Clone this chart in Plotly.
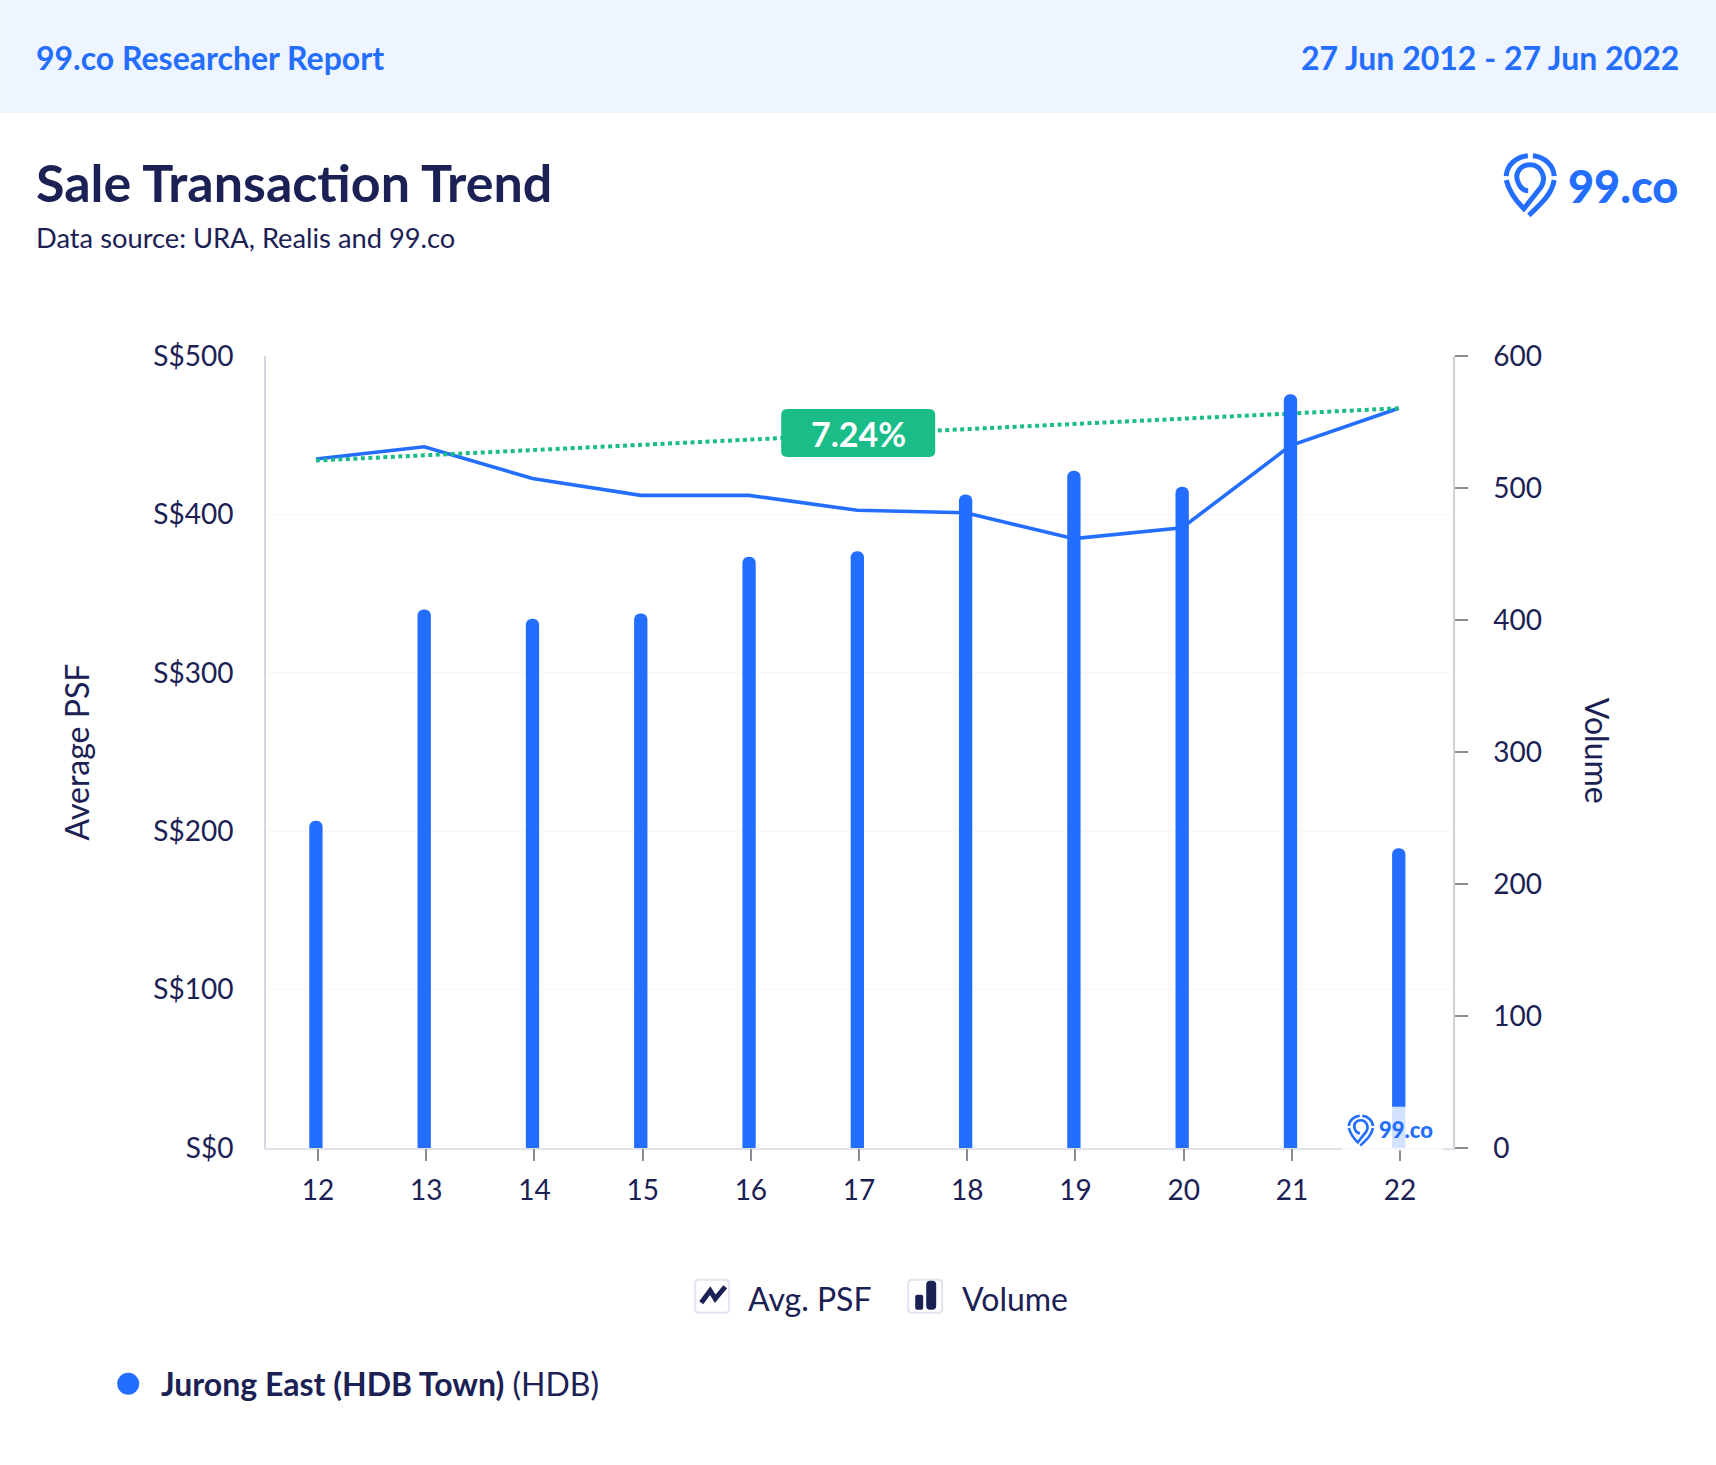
import plotly.graph_objects as go

W, H = 1716, 1465
L, R, T, B = 265.8, 1452.8, 356.0, 1148.2
years = [12, 13, 14, 15, 16, 17, 18, 19, 20, 21, 22]
volume = [248, 408, 401, 405, 448, 452, 495, 513, 501, 571, 227]
avg_psf = [435, 442.7, 422.6, 412, 412, 402.6, 401, 384.7, 391.6, 443.4, 467]
trend_x = [12, 22]
trend_y = [434, 467]
psf_ticks = [0, 100, 200, 300, 400, 500]
psf_labels = ["S$0", "S$100", "S$200", "S$300", "S$400", "S$500"]
vol_ticks = [0, 100, 200, 300, 400, 500, 600]

INK = "#1B2154"
BLUE = "#246EFF"
GREEN = "#1ABC88"
FONT = "Lato"

def px(x): return (x - L) / (R - L)
def py(y): return 1 - (y - T) / (B - T)

def path(cmds):
    out = []
    for c in cmds:
        op, pts = c[0], c[1:]
        out.append(op + " ".join(f"{px(pts[i]):.5f},{py(pts[i+1]):.5f}" for i in range(0, len(pts), 2)))
    return " ".join(out)

def rrect(x0, y0, x1, y1, r):
    return path([("M", x0 + r, y0), ("L", x1 - r, y0), ("Q", x1, y0, x1, y0 + r), ("L", x1, y1 - r),
                 ("Q", x1, y1, x1 - r, y1), ("L", x0 + r, y1), ("Q", x0, y1, x0, y1 - r), ("L", x0, y0 + r),
                 ("Q", x0, y0, x0 + r, y0)]) + " Z"

shapes = []
annos = []

def rect(x0, y0, x1, y1, color, layer="above", opacity=1):
    shapes.append(dict(type="rect", xref="paper", yref="paper", x0=px(x0), x1=px(x1), y0=py(y0), y1=py(y1),
                       fillcolor=color, line_width=0, layer=layer, opacity=opacity))

def text(x, y, s, size, color=INK, anchor="left", angle=0, weight=None):
    f = dict(family=FONT, size=size, color=color)
    if weight:
        f["weight"] = weight
    annos.append(dict(xref="paper", yref="paper", x=px(x), y=py(y), text=s, textangle=angle,
                      showarrow=False, xanchor=anchor, yanchor="middle", borderpad=0, font=f))

def logo(ox, oy, k, w, tsize, tx, ty):
    def P(*a):
        return [ox + k * v if i % 2 == 0 else oy + k * v for i, v in enumerate(a)]
    segs = [
        [("M", *P(168, 150)), ("C", *P(178, 190, 200, 215, 221, 236)), ("L", *P(272, 172)),
         ("C", *P(292, 140, 270, 104, 240, 104)), ("C", *P(210, 104, 190, 130, 205, 160)), ("C", *P(212, 175, 222, 182, 234, 182))],
        [("M", *P(312, 150)), ("C", *P(305, 190, 280, 215, 236, 256))],
        [("M", *P(168, 138)), ("C", *P(170, 105, 198, 80, 233, 77))],
        [("M", *P(248, 77)), ("C", *P(282, 80, 310, 105, 312, 138))],
    ]
    for s in segs:
        shapes.append(dict(type="path", xref="paper", yref="paper", path=path(s), line=dict(color=BLUE, width=w), layer="above"))
    text(tx, ty, "99.co", tsize, BLUE, weight=900)

rect(0, 0, W, 113, "#EEF5FF", layer="below")
text(35, 57, "<b>99.co Researcher Report</b>", 32, BLUE)
text(1680, 57, "<b>27 Jun 2012 - 27 Jun 2022</b>", 32, BLUE, "right")
text(35, 182, "<b>Sale Transaction Trend</b>", 52)
text(35, 237, "Data source: URA, Realis and 99.co", 27.3)
logo(1450, 130, 1 / 3, 5, 45, 1567, 186)

shapes.append(dict(type="path", xref="paper", yref="paper", path=rrect(781, 409, 935, 457, 6), fillcolor=GREEN, line_width=0, layer="above"))
text(858, 433.5, "<b>7.24%</b>", 34, "white", "center")

rect(1342, 1107, 1443, 1151, "white", opacity=0.8)
logo(1360.7 - 240 / 6, 1127 - 143 / 6, 1 / 6, 2.6, 22, 1378, 1130)

for bx in (695, 908):
    shapes.append(dict(type="path", xref="paper", yref="paper", path=rrect(bx, 1280, bx + 34, 1313, 4), line=dict(color="#E2E3EE", width=2), layer="above"))
shapes.append(dict(type="path", xref="paper", yref="paper",
                   path=path([("M", 701, 1303), ("L", 710, 1291), ("L", 715, 1299), ("L", 725, 1287)]),
                   line=dict(color=INK, width=5), layer="above"))
shapes.append(dict(type="path", xref="paper", yref="paper", path=rrect(915, 1295, 923, 1310, 2), fillcolor=INK, line_width=0, layer="above"))
shapes.append(dict(type="path", xref="paper", yref="paper", path=rrect(926, 1281, 936, 1310, 4), fillcolor=INK, line_width=0, layer="above"))
text(747, 1299, "Avg. PSF", 32)
text(961, 1299, "Volume", 32)

shapes.append(dict(type="circle", xref="paper", yref="paper", x0=px(117), x1=px(139), y0=py(1373), y1=py(1395), fillcolor=BLUE, line_width=0, layer="above"))
text(160, 1384, "<b>Jurong East (HDB Town)</b> (HDB)", 32)
text(1597, 751, "Volume", 32, anchor="center", angle=90)

fig = go.Figure()
fig.add_bar(x=years, y=volume, yaxis="y2", width=0.123, marker=dict(color=BLUE, cornerradius=6, line_width=0), showlegend=False)
fig.add_scatter(x=years, y=avg_psf, mode="lines", line=dict(color=BLUE, width=3.6), showlegend=False)
fig.add_scatter(x=trend_x, y=trend_y, mode="lines", line=dict(color=GREEN, width=4, dash="4px,3.5px"), showlegend=False)
fig.add_scatter(x=years, y=[None] * len(years), xaxis="x2", mode="lines", showlegend=False, hoverinfo="skip")

tick_font = dict(family=FONT, size=28, color=INK)
fig.update_layout(
    width=W, height=H, autosize=False,
    margin=dict(l=L, r=W - R, t=T, b=H - B, pad=0),
    paper_bgcolor="white", plot_bgcolor="white", font=dict(family=FONT, color=INK),
    showlegend=False, shapes=shapes, annotations=annos,
    xaxis=dict(range=[11.539, 22.501], showticklabels=False, ticks="",
               showgrid=False, zeroline=False, showline=True, linecolor="#E0E1E8", linewidth=2),
    xaxis2=dict(range=[11.519, 22.489], overlaying="x", anchor="y", side="bottom", tickmode="array", tickvals=years,
                ticktext=[str(v) for v in years], tickfont=tick_font, ticklabelstandoff=5,
                ticks="outside", ticklen=12, tickwidth=1.5, tickcolor="#8A8C94",
                showgrid=False, zeroline=False, showline=False),
    yaxis=dict(range=[0, 500], tickmode="array", tickvals=psf_ticks, ticktext=psf_labels, tickfont=tick_font,
               ticks="outside", ticklen=25, tickcolor="rgba(0,0,0,0)", showgrid=True, gridcolor="#F8F8FA", gridwidth=1,
               zeroline=False, showline=True, linecolor="#D6D7DE", linewidth=2,
               title=dict(text="Average PSF", font=dict(family=FONT, size=32, color=INK), standoff=54)),
    yaxis2=dict(range=[0, 600], overlaying="y", side="right", tickmode="array", tickvals=vol_ticks, tickfont=tick_font,
                ticks="outside", ticklen=13, tickwidth=1.5, tickcolor="#8A8C94", showgrid=False, zeroline=False,
                showline=True, linecolor="#CFD0D5", linewidth=1.5, ticklabelstandoff=20),
)
fig.write_html("out.html", config=dict(displayModeBar=False),
               post_script="document.body.style.margin='0';window.dispatchEvent(new Event('resize'));")
